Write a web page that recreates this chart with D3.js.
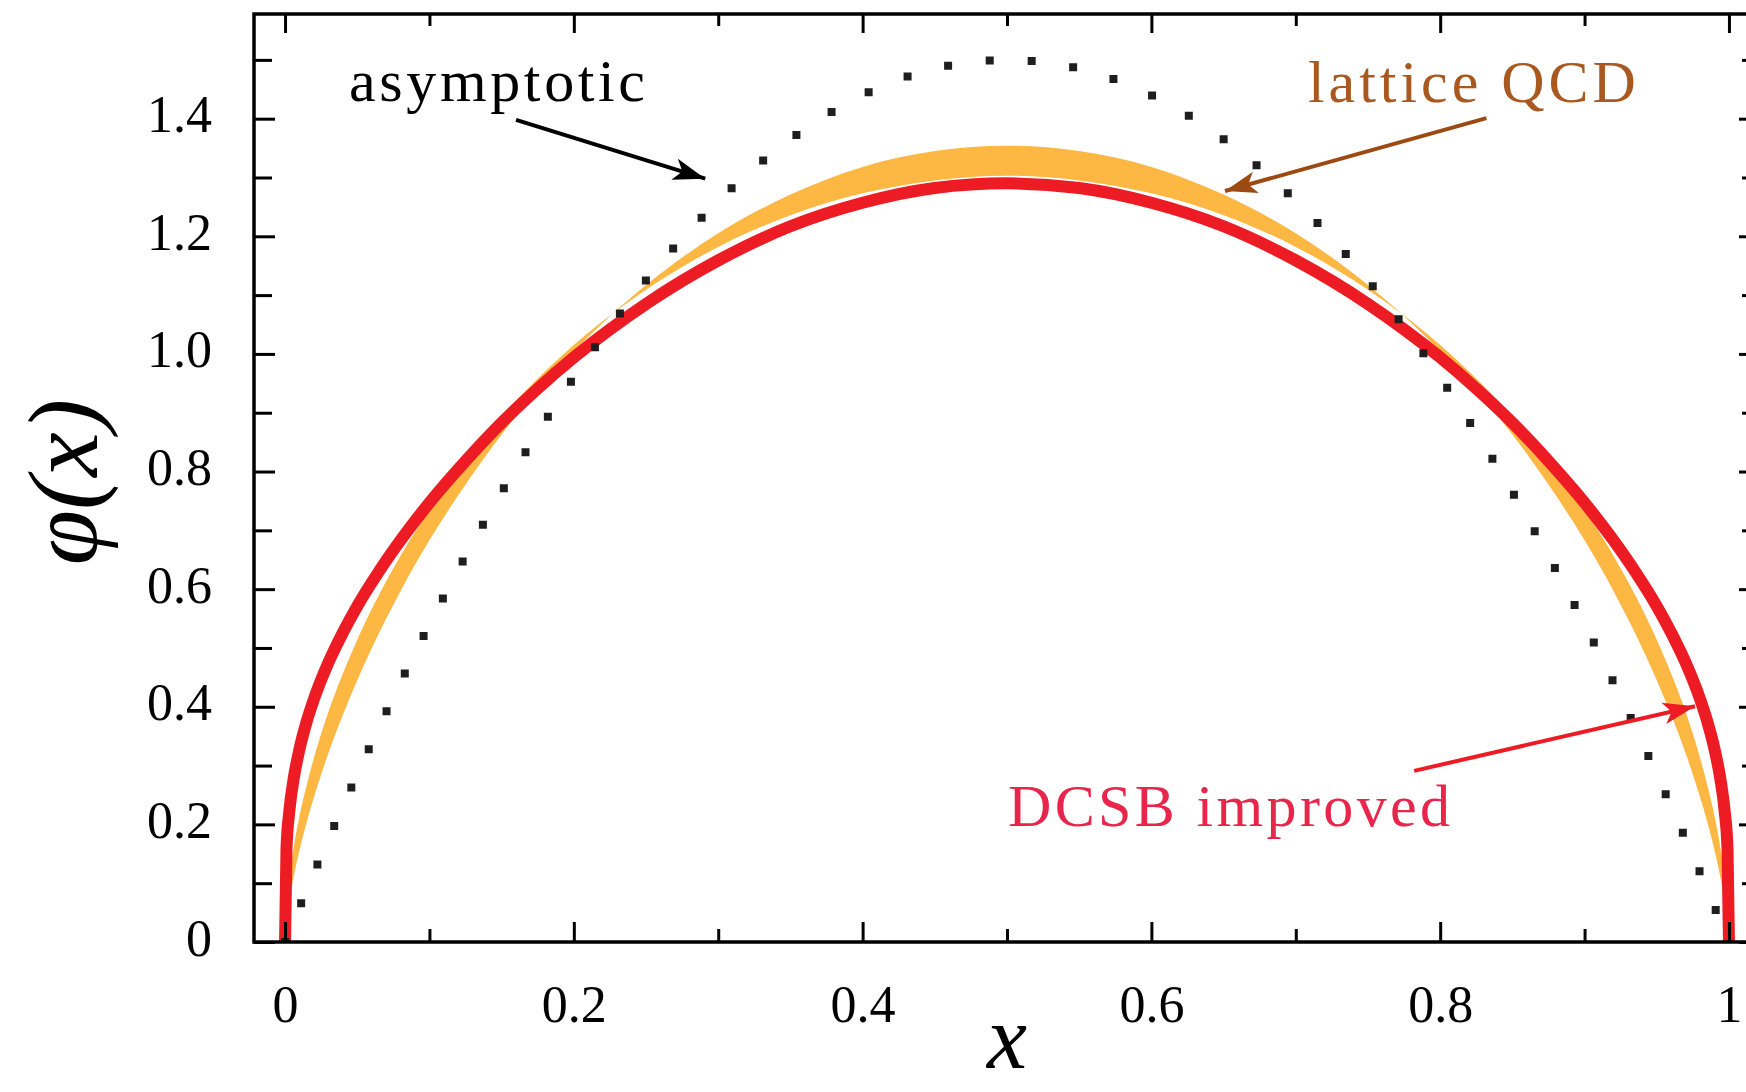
<!DOCTYPE html>
<html>
<head>
<meta charset="utf-8">
<title>pion PDA</title>
<script src="https://cdn.jsdelivr.net/npm/d3@7"></script>
<style>
  body { margin: 0; background: #fff; }
</style>
</head>
<body>
<div id="viz"></div>
<script>
var width = 1746, height = 1092;

// x grid shared by all curves (denser near the end points)
var xGrid = [0, 0.001, 0.003, 0.006, 0.01, 0.015, 0.02, 0.03, 0.04, 0.05, 0.065, 0.08, 0.1, 0.125, 0.15, 0.175, 0.2, 0.25, 0.3, 0.35, 0.4, 0.45, 0.5,
             0.55, 0.6, 0.65, 0.7, 0.75, 0.8, 0.825, 0.85, 0.875, 0.9, 0.92, 0.935, 0.95, 0.96, 0.97, 0.98, 0.985, 0.99, 0.994, 0.997, 0.999, 1];
// DCSB improved (red line)
var dcsbImproved = [0, 0.159, 0.223, 0.278, 0.328, 0.375, 0.413, 0.475, 0.526, 0.571, 0.630, 0.683, 0.747, 0.818, 0.883, 0.941, 0.994, 1.085, 1.159, 1.217, 1.257, 1.282, 1.290,
                    1.282, 1.257, 1.217, 1.159, 1.085, 0.994, 0.941, 0.883, 0.818, 0.747, 0.683, 0.630, 0.571, 0.526, 0.475, 0.413, 0.375, 0.328, 0.278, 0.223, 0.159, 0];
// lattice QCD band, its two edges
var latticeEdgeA = [0, 0.059, 0.109, 0.161, 0.214, 0.267, 0.313, 0.391, 0.456, 0.514, 0.590, 0.657, 0.735, 0.820, 0.894, 0.958, 1.015, 1.109, 1.182, 1.236, 1.273, 1.295, 1.303,
                    1.295, 1.273, 1.236, 1.182, 1.109, 1.015, 0.958, 0.894, 0.820, 0.735, 0.657, 0.590, 0.514, 0.456, 0.391, 0.313, 0.267, 0.214, 0.161, 0.109, 0.059, 0];
var latticeEdgeB = [0, 0.034, 0.070, 0.111, 0.156, 0.204, 0.246, 0.321, 0.386, 0.445, 0.525, 0.597, 0.683, 0.778, 0.863, 0.937, 1.004, 1.117, 1.205, 1.271, 1.318, 1.345, 1.354,
                    1.345, 1.318, 1.271, 1.205, 1.117, 1.004, 0.937, 0.863, 0.778, 0.683, 0.597, 0.525, 0.445, 0.386, 0.321, 0.246, 0.204, 0.156, 0.111, 0.070, 0.034, 0];
// asymptotic (dotted)
var asymptotic = [0, 0.006, 0.018, 0.036, 0.059, 0.089, 0.118, 0.175, 0.230, 0.285, 0.365, 0.442, 0.540, 0.656, 0.765, 0.866, 0.960, 1.125, 1.260, 1.365, 1.440, 1.485, 1.500,
                  1.485, 1.440, 1.365, 1.260, 1.125, 0.960, 0.866, 0.765, 0.656, 0.540, 0.442, 0.365, 0.285, 0.230, 0.175, 0.118, 0.089, 0.059, 0.036, 0.018, 0.006, 0];

var xTicks = [0, 0.2, 0.4, 0.6, 0.8, 1];
var xTickLabels = ['0', '0.2', '0.4', '0.6', '0.8', '1'];
var xMinorTicks = [0.1, 0.3, 0.5, 0.7, 0.9];
var yTicks = [0, 0.2, 0.4, 0.6, 0.8, 1.0, 1.2, 1.4];
var yTickLabels = ['0', '0.2', '0.4', '0.6', '0.8', '1.0', '1.2', '1.4'];
var yMinorTicks = [0.1, 0.3, 0.5, 0.7, 0.9, 1.1, 1.3, 1.5];

// annotations: text, left x / baseline y (data units), arrow from -> to
var noteText = ['asymptotic', 'lattice QCD', 'DCSB improved'];
var noteColor = ['#000000', '#a9591f', '#e8254a'];
var arrowColor = ['#000000', '#9c4a12', '#ed1c24'];
var notePos = [[0.0443, 1.430], [0.7084, 1.4286], [0.5007, 0.197]];
var noteWidth = [296, 328, 442];
var arrowFrom = [[0.160, 1.398], [0.832, 1.401], [0.782, 0.291]];
var arrowTo = [[0.291, 1.298], [0.651, 1.277], [0.9765, 0.401]];

var x = d3.scaleLinear().domain([-0.0215, 1.0215]).range([254, 1760]);
var y = d3.scaleLinear().domain([0, 1.578]).range([942, 14]);
var fr = {l: x.range()[0], r: x.range()[1], t: y.range()[1], b: y.range()[0]};

var svg = d3.select('#viz').append('svg')
  .attr('width', width).attr('height', height).style('display', 'block');
svg.append('rect').attr('width', width).attr('height', height).attr('fill', '#fff');

var defs = svg.append('defs');
defs.append('clipPath').attr('id', 'plotclip').append('rect')
  .attr('x', fr.l).attr('y', fr.t).attr('width', fr.r - fr.l).attr('height', fr.b - fr.t);
arrowColor.forEach(function(c, i){
  defs.append('marker').attr('id', 'head' + i)
    .attr('markerUnits', 'userSpaceOnUse')
    .attr('viewBox', '-34 -13 36 26').attr('refX', 0).attr('refY', 0)
    .attr('markerWidth', 36).attr('markerHeight', 26).attr('orient', 'auto')
    .append('path').attr('d', 'M0,0L-32,-11L-24,0L-32,11Z').attr('fill', c);
});

var plot = svg.append('g').attr('clip-path', 'url(#plotclip)');

// lattice band
var band = d3.area()
  .x(function(d, i){ return x(xGrid[i]); })
  .y0(function(d, i){ return y(latticeEdgeB[i]); })
  .y1(function(d, i){ return y(latticeEdgeA[i]); })
  .curve(d3.curveMonotoneX);
plot.append('path').datum(xGrid).attr('d', band).attr('fill', '#fcb843');

// DCSB improved
var line = function(vals){
  return d3.line()
    .x(function(d, i){ return x(xGrid[i]); })
    .y(function(d, i){ return y(vals[i]); })
    .curve(d3.curveMonotoneX)(xGrid);
};
plot.append('path').attr('d', line(dcsbImproved))
  .attr('fill', 'none').attr('stroke', '#ed1c24').attr('stroke-width', 12);

// asymptotic dots
plot.append('path').attr('d', line(asymptotic))
  .attr('fill', 'none').attr('stroke', '#1e1e1e').attr('stroke-width', 8)
  .attr('stroke-linecap', 'square').attr('stroke-dasharray', '0 42');

// annotations
var notes = svg.append('g');
noteText.forEach(function(t, i){
  notes.append('line')
    .attr('x1', x(arrowFrom[i][0])).attr('y1', y(arrowFrom[i][1]))
    .attr('x2', x(arrowTo[i][0])).attr('y2', y(arrowTo[i][1]))
    .attr('stroke', arrowColor[i]).attr('stroke-width', 4)
    .attr('marker-end', 'url(#head' + i + ')');
  notes.append('text')
    .attr('x', x(notePos[i][0])).attr('y', y(notePos[i][1]))
    .attr('font-family', '"Liberation Serif", "DejaVu Serif", serif')
    .attr('font-size', 60)
    .attr('textLength', noteWidth[i]).attr('lengthAdjust', 'spacing')
    .attr('fill', noteColor[i]).text(t);
});

// axes
function styleAxis(g){
  g.select('.domain').remove();
  g.selectAll('line').attr('stroke', '#000').attr('stroke-width', 3);
  g.selectAll('text').attr('font-family', '"Liberation Serif", "DejaVu Serif", serif')
    .attr('font-size', 52).attr('fill', '#000');
}
svg.append('g').attr('transform', 'translate(0,' + fr.b + ')')
  .call(d3.axisBottom(x).tickValues(xTicks).tickFormat(function(d, i){ return xTickLabels[i]; })
    .tickSizeInner(-20).tickSizeOuter(0).tickPadding(43))
  .call(styleAxis);
svg.append('g').attr('transform', 'translate(0,' + fr.b + ')')
  .call(d3.axisBottom(x).tickValues(xMinorTicks).tickFormat('').tickSizeInner(-13).tickSizeOuter(0))
  .call(styleAxis);
svg.append('g').attr('transform', 'translate(0,' + fr.t + ')')
  .call(d3.axisTop(x).tickValues(xTicks).tickFormat('').tickSizeInner(-19).tickSizeOuter(0))
  .call(styleAxis);
svg.append('g').attr('transform', 'translate(0,' + fr.t + ')')
  .call(d3.axisTop(x).tickValues(xMinorTicks).tickFormat('').tickSizeInner(-12).tickSizeOuter(0))
  .call(styleAxis);
svg.append('g').attr('transform', 'translate(' + fr.l + ',0)')
  .call(d3.axisLeft(y).tickValues(yTicks).tickFormat(function(d, i){ return yTickLabels[i]; })
    .tickSizeInner(-21).tickSizeOuter(0).tickPadding(42))
  .call(styleAxis)
  .selectAll('text').attr('dy', '0.25em');
svg.append('g').attr('transform', 'translate(' + fr.l + ',0)')
  .call(d3.axisLeft(y).tickValues(yMinorTicks).tickFormat('').tickSizeInner(-18).tickSizeOuter(0))
  .call(styleAxis);
svg.append('g').attr('transform', 'translate(' + fr.r + ',0)')
  .call(d3.axisRight(y).tickValues(yTicks).tickFormat('').tickSizeInner(-21).tickSizeOuter(0))
  .call(styleAxis);
svg.append('g').attr('transform', 'translate(' + fr.r + ',0)')
  .call(d3.axisRight(y).tickValues(yMinorTicks).tickFormat('').tickSizeInner(-18).tickSizeOuter(0))
  .call(styleAxis);

// frame
svg.append('rect')
  .attr('x', fr.l).attr('y', fr.t).attr('width', fr.r - fr.l).attr('height', fr.b - fr.t)
  .attr('fill', 'none').attr('stroke', '#000').attr('stroke-width', 3.5);

// axis titles
svg.append('text')
  .attr('x', x(0.5)).attr('y', 1068)
  .attr('text-anchor', 'middle')
  .attr('font-family', '"Liberation Serif", "DejaVu Serif", serif')
  .attr('font-style', 'italic').attr('font-size', 90)
  .text('x');
svg.append('text')
  .attr('transform', 'translate(97,' + y(0.782) + ') rotate(-90)')
  .attr('text-anchor', 'middle')
  .attr('font-family', '"Liberation Serif", "DejaVu Serif", serif')
  .attr('font-style', 'italic').attr('font-size', 100)
  .text('\u03c6(x)');
</script>
</body>
</html>
